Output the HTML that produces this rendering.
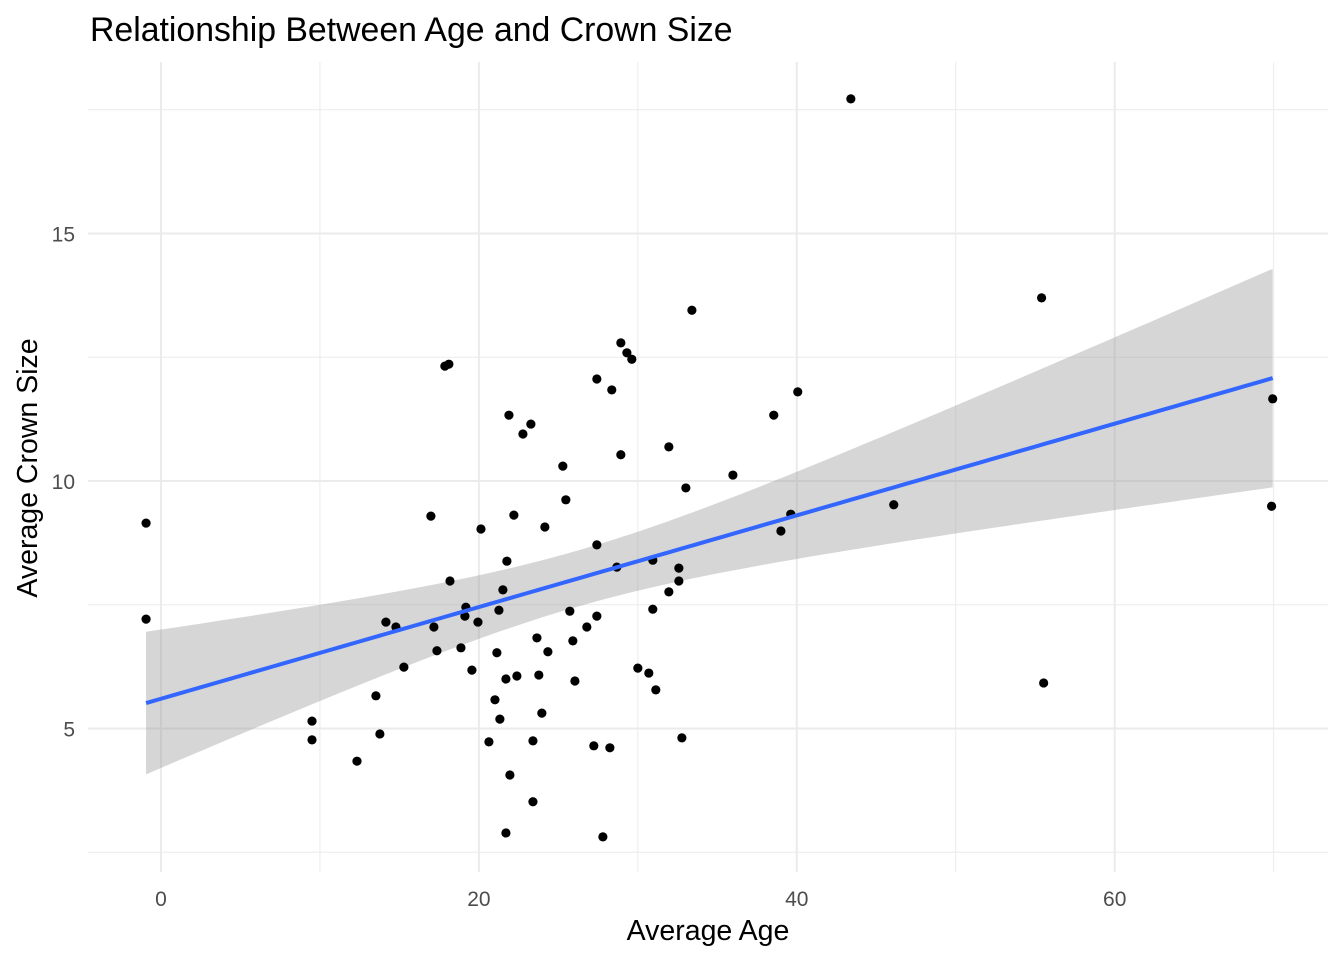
<!DOCTYPE html>
<html><head><meta charset="utf-8"><style>
body{margin:0;background:#fff;}
svg{display:block;font-family:"Liberation Sans",Arial,sans-serif;}
</style></head><body>
<svg id="chart" width="1344" height="960">
<text x="90" y="41" font-size="33.8" fill="#000">Relationship Between Age and Crown Size</text>
<g id="grid"></g><g id="band"></g><g id="pts"></g><g id="axes"></g>
<text x="708" y="940" font-size="28.5" text-anchor="middle" fill="#000">Average Age</text>
<text transform="translate(37,468) rotate(-90)" font-size="28.5" text-anchor="middle" fill="#000">Average Crown Size</text>
</svg>
<script>
const ages=[-0.94,-0.94,9.5,9.5,12.33,13.52,13.77,14.15,14.78,15.28,16.98,17.17,17.36,17.86,18.11,18.18,18.87,19.18,19.12,19.56,19.94,20.13,20.63,21.01,21.13,21.26,21.32,21.51,21.70,21.76,21.70,21.89,21.95,22.2,22.39,22.77,23.27,23.40,23.40,23.65,23.77,23.96,24.15,24.34,25.28,25.47,25.72,25.91,26.04,26.79,27.23,27.42,27.42,27.42,27.8,28.24,28.36,28.68,28.93,28.93,29.31,29.62,30.0,30.69,30.94,30.94,31.13,31.95,31.95,32.58,32.58,32.77,33.02,33.4,35.98,38.55,39.0,39.62,40.06,43.4,46.1,55.4,55.53,69.87,69.94];
const crowns=[9.15,7.21,5.15,4.77,4.34,5.66,4.89,7.15,7.05,6.24,9.29,7.05,6.57,12.32,12.36,7.98,6.63,7.45,7.27,6.18,7.15,9.03,4.73,5.58,6.53,7.39,5.19,7.8,6.0,8.38,2.89,11.33,4.06,9.31,6.06,10.95,11.15,4.75,3.52,6.83,6.08,5.31,9.07,6.55,10.3,9.62,7.37,6.77,5.96,7.05,4.65,8.71,12.06,7.27,2.81,4.61,11.84,8.26,12.79,10.53,12.59,12.46,6.22,6.12,8.4,7.41,5.78,10.69,7.76,8.24,7.98,4.81,9.86,13.45,10.12,11.33,8.99,9.33,11.8,17.72,9.52,13.7,5.92,9.49,11.66];
const xTicks=[0,20,40,60];
const yTicks=[5,10,15];
const xMinor=[10,30,50,70];
const yMinor=[2.5,7.5,12.5,17.5];
const X=v=>161+v*15.895, Y=v=>481-(v-10)*49.5;
const L=88,R=1328,T=62,B=872;
const NS="http://www.w3.org/2000/svg";
function mk(p,t,a){const e=document.createElementNS(NS,t);for(const k in a)e.setAttribute(k,a[k]);p.appendChild(e);return e;}
const grid=document.getElementById('grid');
xMinor.forEach(v=>{const e=mk(grid,'line',{x1:X(v),x2:X(v),y1:T,y2:B,stroke:'#ebebeb','stroke-width':1});

});
yMinor.forEach(v=>{const e=mk(grid,'line',{x1:L,x2:R,y1:Y(v),y2:Y(v),stroke:'#ebebeb','stroke-width':1});

});
xTicks.forEach(v=>{const e=mk(grid,'line',{x1:X(v),x2:X(v),y1:T,y2:B,stroke:'#ebebeb','stroke-width':2});


const t=mk(grid,'text',{x:X(v),y:906,'font-size':21,'text-anchor':'middle',fill:'#4d4d4d'});t.textContent=v;

});
yTicks.forEach(v=>{const e=mk(grid,'line',{x1:L,x2:R,y1:Y(v),y2:Y(v),stroke:'#ebebeb','stroke-width':2});


const t=mk(grid,'text',{x:75,y:Y(v)+8,'font-size':21,'text-anchor':'end',fill:'#4d4d4d'});t.textContent=v;

});
const n=ages.length,mx=ages.reduce((a,b)=>a+b)/n,my=crowns.reduce((a,b)=>a+b)/n;
let sxx=0,sxy=0;for(let i=0;i<n;i++){sxx+=(ages[i]-mx)**2;sxy+=(ages[i]-mx)*(crowns[i]-my);}
const b1=sxy/sxx,b0=my-b1*mx;let sse=0;for(let i=0;i<n;i++)sse+=(crowns[i]-b0-b1*ages[i])**2;
const s=Math.sqrt(sse/(n-2)),tq=1.99;
const x0=Math.min(...ages),x1=Math.max(...ages);const up=[],lo=[],ln=[];
for(let k=0;k<=80;k++){const x=x0+(x1-x0)*k/80,f=b0+b1*x,se=s*Math.sqrt(1/n+(x-mx)**2/sxx);
up.push(X(x)+','+Y(f+tq*se));lo.unshift(X(x)+','+Y(f-tq*se));ln.push(X(x)+','+Y(f));}
const band=document.getElementById('band');
const pg=mk(band,'polygon',{points:up.concat(lo).join(' '),fill:'#999','fill-opacity':0.4});


const pts=document.getElementById('pts');
for(let i=0;i<n;i++){const c=mk(pts,'circle',{cx:X(ages[i]),cy:Y(crowns[i]),r:4.6,fill:'#000'});

}
const pl=mk(pts,'polyline',{points:ln.join(' '),fill:'none',stroke:'#3366ff','stroke-width':4});


</script>
</body></html>
